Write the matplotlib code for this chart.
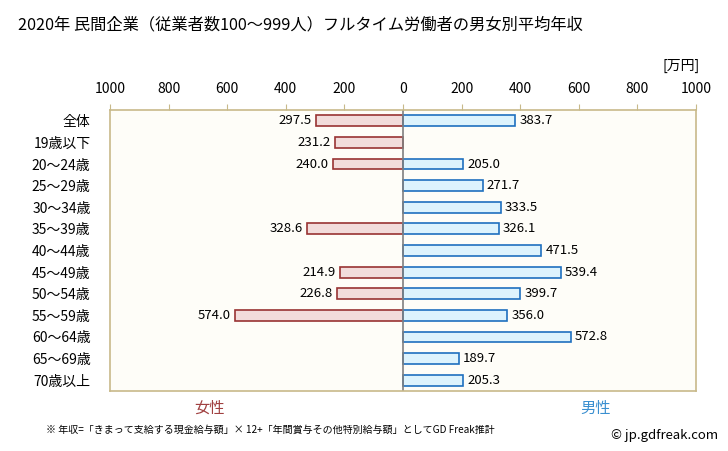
import matplotlib
matplotlib.use('Agg')
import matplotlib.pyplot as plt
import numpy as np

plt.rcParams['font.family'] = ['Noto Sans CJK JP', 'DejaVu Sans']

# Data (万円), nan = no bar
categories = ['全体', '19歳以下', '20～24歳', '25～29歳', '30～34歳', '35～39歳', '40～44歳',
              '45～49歳', '50～54歳', '55～59歳', '60～64歳', '65～69歳', '70歳以上']
female = [297.5, 231.2, 240.0, np.nan, np.nan, 328.6, np.nan,
          214.9, 226.8, 574.0, np.nan, np.nan, np.nan]
male = [383.7, np.nan, 205.0, 271.7, 333.5, 326.1, 471.5,
        539.4, 399.7, 356.0, 572.8, 189.7, 205.3]
ticks = [-1000, -800, -600, -400, -200, 0, 200, 400, 600, 800, 1000]

fig = plt.figure(figsize=(7.28, 4.51), dpi=100)
ax = fig.add_axes([110 / 728, 1 - 391 / 451, 586 / 728, 281 / 451])
ax.set_facecolor('#FEFDF8')

y = np.arange(len(categories))
f = np.array(female)
m = np.array(male)

ax.barh(y, -f, height=0.5, color='#F2DCDB', edgecolor='#993333', linewidth=1.2)
ax.barh(y, m, height=0.5, color='#DDF3FD', edgecolor='#1F70BF', linewidth=1.2)

# Value labels
for yi, v in zip(y, f):
    if not np.isnan(v):
        ax.text(-v - 14, yi, f'{v:.1f}', ha='right', va='center', fontsize=9.5)
for yi, v in zip(y, m):
    if not np.isnan(v):
        ax.text(v + 14, yi, f'{v:.1f}', ha='left', va='center', fontsize=9.5)

ax.axvline(0, color='#808080', linewidth=1.2)

ax.set_xlim(-1000, 1000)
ax.set_ylim(len(categories) - 0.5, -0.5)
ax.set_xticks(ticks)
ax.set_xticklabels([str(abs(t)) for t in ticks], fontsize=10)
ax.xaxis.tick_top()
ax.tick_params(axis='x', direction='out', length=4, color='#C8B98A', pad=6)
ax.set_yticks(y)
ax.set_yticklabels(categories, fontsize=10)
ax.tick_params(axis='y', length=0, pad=14)
for s in ax.spines.values():
    s.set_color('#C8B98A')
    s.set_linewidth(1.2)

fig.text(18 / 728, 1 - 25 / 451, '2020年 民間企業（従業者数100～999人）フルタイム労働者の男女別平均年収',
         fontsize=11.7, ha='left', va='center')
fig.text(700 / 728, 1 - 66 / 451, '[万円]', fontsize=10, ha='right', va='center')
fig.text(210 / 728, 1 - 408 / 451, '女性', fontsize=11, color='#A04040', ha='center', va='center')
fig.text(596 / 728, 1 - 408 / 451, '男性', fontsize=11, color='#3A8FD0', ha='center', va='center')
fig.text(46 / 728, 1 - 430 / 451,
         '※ 年収=「きまって支給する現金給与額」× 12+「年間賞与その他特別給与額」としてGD Freak推計',
         fontsize=7.2, ha='left', va='center')
fig.text(718 / 728, 1 - 435 / 451, '© jp.gdfreak.com', fontsize=9.5, ha='right', va='center')

fig.savefig('out.png', dpi=100)
